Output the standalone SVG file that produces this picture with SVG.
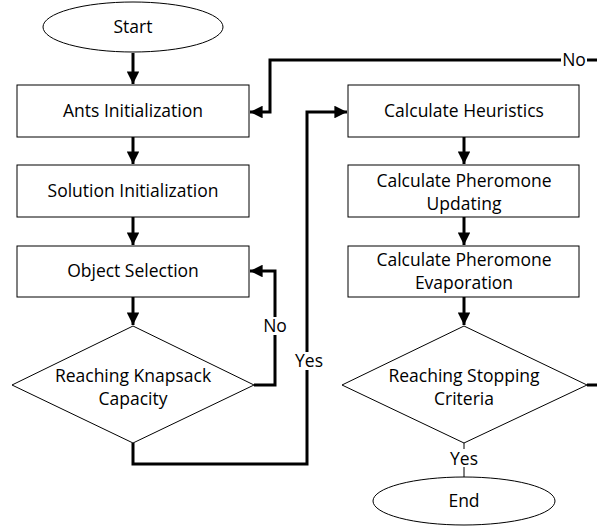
<svg xmlns="http://www.w3.org/2000/svg" width="597" height="526" viewBox="0 0 597 526">
  <defs>
    <marker id="arrow" viewBox="0 0 10 10" refX="10" refY="5" markerWidth="4.2" markerHeight="4.2" orient="auto" markerUnits="strokeWidth">
      <path d="M0,0 L10,5 L0,10 z" fill="#000"/>
    </marker>
    <style>
      .shape { fill: #fff; stroke: #000; stroke-width: 1; }
      .label { font-family: "Open Sans", "Liberation Sans", Arial, sans-serif; font-size: 17.5px; fill: #000; text-anchor: middle; }
      .edge { fill: none; stroke: #000; stroke-width: 3; }
      .thin { fill: none; stroke: #000; stroke-width: 1; }
      .tag { font-family: "Open Sans", "Liberation Sans", Arial, sans-serif; font-size: 17.5px; fill: #000; text-anchor: middle; }
    </style>
  </defs>
  <rect width="597" height="526" fill="#fff"/>

  <!-- connectors -->
  <g id="connectors">
    <path class="edge" d="M133,53 V84" marker-end="url(#arrow)"/>
    <path class="edge" d="M133,137 V164" marker-end="url(#arrow)"/>
    <path class="edge" d="M133,217 V245" marker-end="url(#arrow)"/>
    <path class="edge" d="M133,297 V325" marker-end="url(#arrow)"/>
    <!-- knapsack not full: back to object selection -->
    <path class="edge" d="M254,385 H275 V271 H250" marker-end="url(#arrow)"/>
    <!-- knapsack full: go to heuristics -->
    <path class="edge" d="M133,443 V464 H307 V112 H347" marker-end="url(#arrow)"/>
    <path class="edge" d="M464,137 V164" marker-end="url(#arrow)"/>
    <path class="edge" d="M464,217 V245" marker-end="url(#arrow)"/>
    <path class="edge" d="M464,297 V325" marker-end="url(#arrow)"/>
    <!-- stopping criteria not met: restart with new ants -->
    <path class="edge" d="M587,385 H600 V60 H270 V112 H250" marker-end="url(#arrow)"/>
    <path class="thin" d="M464,443 V477"/>
    <rect x="294" y="352" width="31" height="18" fill="#fff"/>
    <text class="tag" x="309" y="367">Yes</text>
    <rect x="262" y="317" width="26" height="18" fill="#fff"/>
    <text class="tag" x="275" y="332">No</text>
    <rect x="561" y="51" width="26" height="18" fill="#fff"/>
    <text class="tag" x="574" y="66">No</text>
    <rect x="448" y="449" width="32" height="18" fill="#fff"/>
    <text class="tag" x="464" y="465">Yes</text>
  </g>

  <g id="start">
    <ellipse class="shape" cx="133" cy="27" rx="90" ry="25"/>
    <text class="label" x="133" y="33">Start</text>
  </g>
  <g id="ants-init">
    <rect class="shape" x="17" y="85" width="232" height="52"/>
    <text class="label" x="133" y="117">Ants Initialization</text>
  </g>
  <g id="solution-init">
    <rect class="shape" x="17" y="165" width="232" height="52"/>
    <text class="label" x="133" y="197">Solution Initialization</text>
  </g>
  <g id="object-selection">
    <rect class="shape" x="17" y="246" width="232" height="51"/>
    <text class="label" x="133" y="277">Object Selection</text>
  </g>
  <g id="knapsack-check">
    <polygon class="shape" points="133,326 254,385 133,443 12,385"/>
    <text class="label" x="133" y="382">Reaching Knapsack</text>
    <text class="label" x="133" y="405">Capacity</text>
  </g>
  <g id="heuristics">
    <rect class="shape" x="348" y="85" width="231" height="52"/>
    <text class="label" x="464" y="117">Calculate Heuristics</text>
  </g>
  <g id="pheromone-update">
    <rect class="shape" x="348" y="165" width="231" height="52"/>
    <text class="label" x="464" y="187">Calculate Pheromone</text>
    <text class="label" x="464" y="210">Updating</text>
  </g>
  <g id="pheromone-evaporation">
    <rect class="shape" x="348" y="246" width="231" height="51"/>
    <text class="label" x="464" y="266">Calculate Pheromone</text>
    <text class="label" x="464" y="289">Evaporation</text>
  </g>
  <g id="stopping-check">
    <polygon class="shape" points="464,326 587,385 464,443 342,385"/>
    <text class="label" x="464" y="382">Reaching Stopping</text>
    <text class="label" x="464" y="405">Criteria</text>
  </g>
  <g id="end">
    <ellipse class="shape" cx="464" cy="501" rx="91" ry="24"/>
    <text class="label" x="464" y="507">End</text>
  </g>
</svg>
